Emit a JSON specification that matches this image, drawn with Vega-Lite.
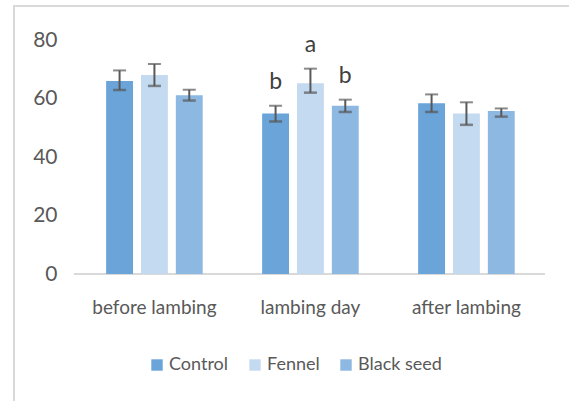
{
  "$schema": "https://vega.github.io/schema/vega-lite/v6.json",
  "width": 560,
  "height": 400,
  "autosize": {"type": "none"},
  "padding": {"left": 14, "top": 6, "right": 0, "bottom": 0},
  "background": "white",
  "config": {
    "view": {"stroke": "#d9d9d9", "strokeWidth": 2},
    "font": "Lato"
  },
  "data": {
    "values": [
      {"period": "before lambing", "group": "Control", "value": 66.0, "lo": 62.9, "hi": 69.6, "letter": ""},
      {"period": "before lambing", "group": "Fennel", "value": 68.0, "lo": 64.3, "hi": 71.8, "letter": ""},
      {"period": "before lambing", "group": "Black seed", "value": 61.1, "lo": 59.3, "hi": 63.0, "letter": ""},
      {"period": "lambing day", "group": "Control", "value": 54.9, "lo": 52.1, "hi": 57.5, "letter": "b"},
      {"period": "lambing day", "group": "Fennel", "value": 65.2, "lo": 62.0, "hi": 70.2, "letter": "a"},
      {"period": "lambing day", "group": "Black seed", "value": 57.5, "lo": 55.4, "hi": 59.6, "letter": "b"},
      {"period": "after lambing", "group": "Control", "value": 58.4, "lo": 55.4, "hi": 61.4, "letter": ""},
      {"period": "after lambing", "group": "Fennel", "value": 54.9, "lo": 51.0, "hi": 58.7, "letter": ""},
      {"period": "after lambing", "group": "Black seed", "value": 55.7, "lo": 53.8, "hi": 56.6, "letter": ""}
    ]
  },
  "layer": [
    {
      "mark": {"type": "rule", "color": "#d9d9d9", "strokeWidth": 2},
      "encoding": {
        "y": {"datum": 0, "type": "quantitative"},
        "x": {"datum": "before lambing", "type": "nominal", "bandPosition": -0.329},
        "x2": {"datum": "after lambing", "bandPosition": 1.307}
      }
    },
    {
      "mark": {"type": "bar"},
      "encoding": {
        "x": {
          "field": "period", "type": "nominal",
          "scale": {"domain": ["before lambing", "lambing day", "after lambing"], "paddingInner": 0.381, "paddingOuter": 0.4853, "align": 0.6085, "round": false},
          "axis": {"title": null, "domain": false, "ticks": false, "labelAngle": 0, "labelAlign": "center", "offset": -132, "labelPadding": 39, "labelBaseline": "alphabetic", "labelFontSize": 19, "labelColor": "#595959", "labelFont": "Lato"}
        },
        "xOffset": {
          "field": "group", "type": "nominal",
          "scale": {"domain": ["Control", "Fennel", "Black seed"], "paddingInner": 0.229, "paddingOuter": 0}
        },
        "y": {
          "field": "value", "type": "quantitative",
          "scale": {"domain": [-45.128, 91.624], "nice": false, "zero": false},
          "axis": {"title": null, "domain": false, "ticks": false, "grid": false, "values": [0, 20, 40, 60, 80], "offset": -45, "labelPadding": 2, "labelFontSize": 21, "labelColor": "#595959", "labelFont": "Lato"}
        },
        "y2": {"datum": 0},
        "color": {
          "field": "group", "type": "nominal",
          "scale": {"domain": ["Control", "Fennel", "Black seed"], "range": ["#6aa4d9", "#c4daf0", "#8db8e2"]},
          "legend": {
            "title": null, "orient": "none", "direction": "horizontal",
            "legendX": 134, "legendY": 350, "padding": 0,
            "symbolType": "square", "symbolSize": 130, "symbolStrokeWidth": 0,
            "labelFontSize": 18, "labelColor": "#595959", "labelFont": "Lato",
            "labelOffset": 3, "columnPadding": 17
          }
        }
      }
    },
    {
      "mark": {"type": "rule", "color": "#595959", "strokeWidth": 2},
      "encoding": {
        "x": {"field": "period", "type": "nominal"},
        "xOffset": {"field": "group", "type": "nominal"},
        "y": {"field": "lo", "type": "quantitative"},
        "y2": {"field": "hi"}
      }
    },
    {
      "mark": {"type": "tick", "color": "#595959", "thickness": 2, "size": 13},
      "encoding": {
        "x": {"field": "period", "type": "nominal"},
        "xOffset": {"field": "group", "type": "nominal"},
        "y": {"field": "hi", "type": "quantitative"}
      }
    },
    {
      "mark": {"type": "tick", "color": "#595959", "thickness": 2.5, "size": 13},
      "encoding": {
        "x": {"field": "period", "type": "nominal"},
        "xOffset": {"field": "group", "type": "nominal"},
        "y": {"field": "lo", "type": "quantitative"}
      }
    },
    {
      "mark": {"type": "text", "dy": -24, "fontSize": 23, "color": "#404040", "font": "Lato", "baseline": "middle"},
      "encoding": {
        "x": {"field": "period", "type": "nominal"},
        "xOffset": {"field": "group", "type": "nominal"},
        "y": {"field": "hi", "type": "quantitative"},
        "text": {"field": "letter"}
      }
    }
  ]
}
